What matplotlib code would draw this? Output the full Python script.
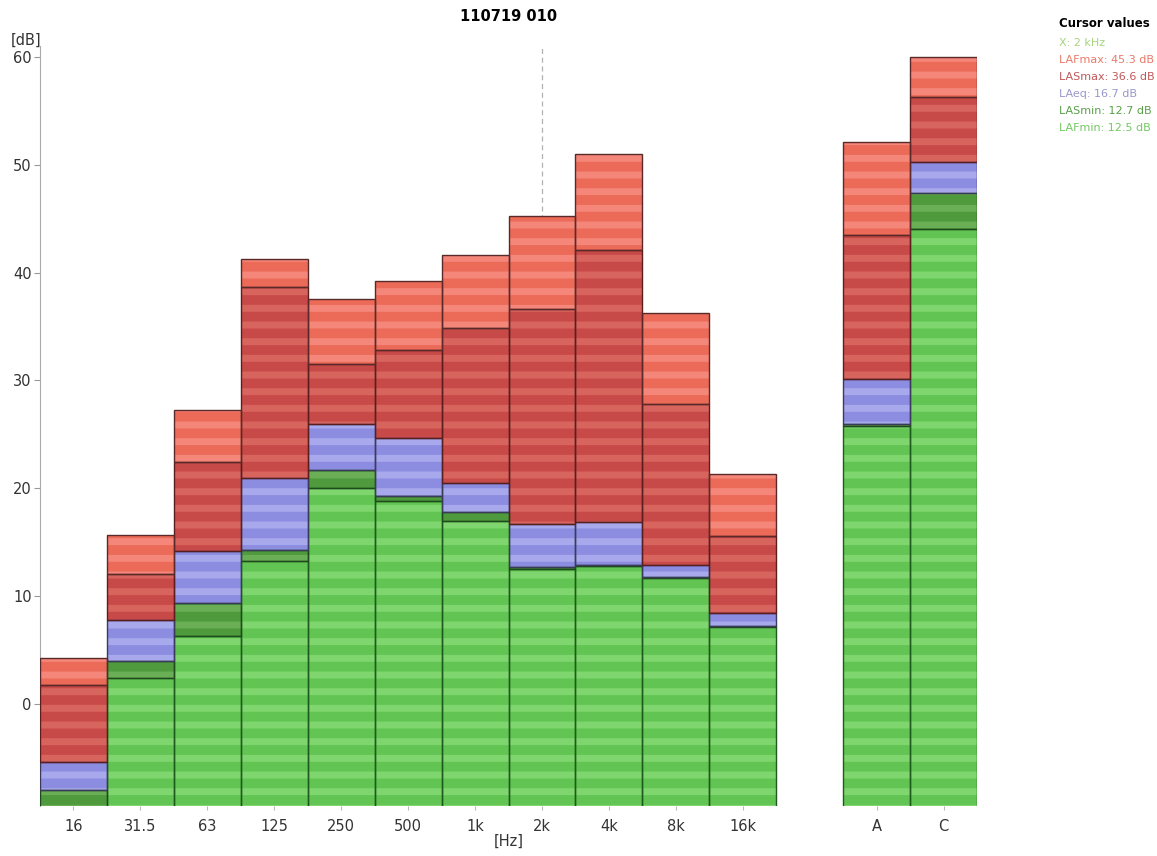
import matplotlib
matplotlib.use("Agg")
import matplotlib.pyplot as plt

# octave bands + A/C broadband, values in dB
bands = ["16", "31.5", "63", "125", "250", "500", "1k", "2k", "4k", "8k", "16k", "A", "C"]
slots = [0, 1, 2, 3, 4, 5, 6, 7, 8, 9, 10, 12, 13]

laf_max = [4.2, 15.7, 27.3, 41.3, 37.6, 39.2, 41.6, 45.3, 51.0, 36.3, 21.3, 52.1, 60.0]
las_max = [1.7, 12.0, 22.4, 38.7, 31.5, 32.8, 34.9, 36.6, 42.1, 27.8, 15.6, 43.5, 56.3]
la_eq   = [-5.4, 7.8, 14.2, 20.9, 26.0, 24.7, 20.5, 16.7, 16.9, 12.9, 8.4, 30.1, 50.3]
las_min = [-8.0, 4.0, 9.3, 14.3, 21.7, 19.3, 17.8, 12.7, 12.9, 11.8, 7.2, 26.0, 47.4]
laf_min = [-10.5, 2.4, 6.3, 13.2, 20.0, 18.8, 17.0, 12.5, 12.8, 11.7, 7.1, 25.8, 44.1]

cursor_band = "2k"
cursor_lines = ["X: 2 kHz", "LAFmax: 45.3 dB", "LASmax: 36.6 dB",
                "LAeq: 16.7 dB", "LASmin: 12.7 dB", "LAFmin: 12.5 dB"]

# (values, fill, stripe, outline), bottom layer first
layers = [
    (laf_min, "#62c452", "#7fd66e", "#1e5a1e"),
    (las_min, "#4f9a3c", "#6aae55", "#1e4a1e"),
    (la_eq,   "#8c8ce0", "#a8a8ec", "#3a3a5a"),
    (las_max, "#c84a48", "#d8645e", "#5a1e1e"),
    (laf_max, "#ec6a58", "#f4867a", "#5a2a2a"),
]
legend_cols = ["#a6d47e", "#e87a6a", "#c05858", "#9898c8", "#58a048", "#72c862"]

plt.rcParams["font.family"] = ["DejaVu Sans"]
plt.rcParams["hatch.linewidth"] = 5.0

fig = plt.figure(figsize=(11.57, 8.56), dpi=100)
ax = fig.add_axes([0.0346, 0.0584, 0.8098, 0.8873])

ymin, ymax = -9.5, 61
floor = -20.0
prev = [floor] * len(bands)
for vals, fill, stripe, edge in layers:
    h = [v - p for v, p in zip(vals, prev)]
    ax.bar(slots, h, bottom=prev, width=1.0, color=fill, edgecolor=stripe,
           hatch="-", linewidth=0, zorder=2)
    ax.bar(slots, h, bottom=prev, width=1.0, fill=False, edgecolor=edge,
           linewidth=1.0, zorder=3)
    prev = vals

# cursor line
cx = slots[bands.index(cursor_band)]
ax.axvline(cx, color="#b0b0b0", lw=0.9, ls=(0, (4, 3)), zorder=1)

ax.set_xlim(-0.5, 13.5)
ax.set_ylim(ymin, ymax)
ax.set_yticks([0, 10, 20, 30, 40, 50, 60])
ax.set_xticks(slots)
ax.set_xticklabels(bands)
ax.tick_params(axis="y", length=4, color="#999999", labelsize=10.5, pad=2,
               labelcolor="#333333")
ax.tick_params(axis="x", length=3, color="#bbbbbb", labelsize=10.5, pad=6,
               labelcolor="#333333")
for s in ["top", "right", "bottom"]:
    ax.spines[s].set_visible(False)
ax.spines["left"].set_color("#aaaaaa")

ax.set_title("110719 010", fontsize=10.5, fontweight="bold", pad=18)
ax.set_xlabel("[Hz]", fontsize=10.5, labelpad=0, color="#333333")
fig.text(0.009, 0.944, "[dB]", fontsize=10.5, va="bottom", ha="left",
         color="#333333")

# cursor values box
lx = 0.9155
fig.text(lx, 0.973, "Cursor values", fontsize=8.5, fontweight="bold",
         va="center", ha="left")
for i, (txt, col) in enumerate(zip(cursor_lines, legend_cols)):
    fig.text(lx, 0.950 - i * 0.0199, txt, fontsize=8, color=col,
             va="center", ha="left")

fig.savefig("out.png", dpi=100)
